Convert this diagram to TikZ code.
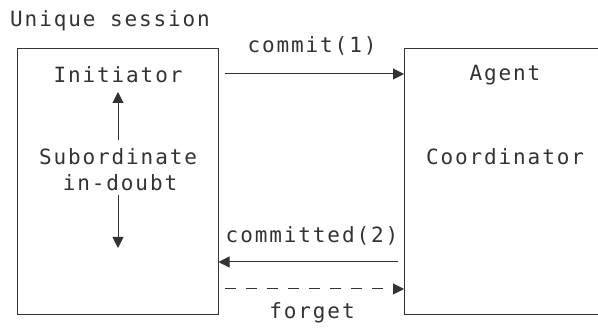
\documentclass[tikz,border=0pt]{standalone}
\usepackage{fontspec}
\setmonofont[LetterSpace=9]{DejaVu Sans Mono}
\usepackage{tikz}
\usetikzlibrary{positioning, arrows.meta, calc}
\definecolor{ink}{HTML}{333333}

\begin{document}
\begin{tikzpicture}[x=1pt, y=1pt,
      txt/.style={text=ink, font=\fontsize{21}{25}\selectfont\ttfamily,
                  inner sep=1pt},
      side/.style={draw=ink, line width=1pt, minimum width=201pt,
                   minimum height=266pt, inner sep=0pt},
      arr/.style={-{Triangle[length=11pt, width=11pt]}, line width=1pt, draw=ink},
      dsh/.style={arr, dash pattern=on 11pt off 10pt}]

    \useasboundingbox (0,0) rectangle (598,328);
    \clip (0,0) rectangle (598,328);

    \node[txt, anchor=west] (ttl) at (9,307) {Unique session};

    % the two sides of the session
    \node[side] (ini) at (117.5,146) {};
    \node[side, minimum width=260pt, anchor=south west] (agt) at (404,13) {};

    \node[txt] (initr) at (118,253) {Initiator};
    \node[txt] (subo)  at (118,171) {Subordinate};
    \node[txt] (doubt) at (120,145) {in-doubt};
    \coordinate (dend) at (118,80);

    \node[txt] (agnt) at (505,253) {Agent};
    \node[txt] (coor) at (505,171) {Coordinator};

    \coordinate (c1) at (225,254);
    \coordinate (c2) at (398,66);
    \coordinate (c3) at (225,39);

    \node[txt] (lcom)  at (312,282) {commit(1)};
    \node[txt] (lcomd) at (312,92)  {committed(2)};
    \node[txt] (lfgt)  at (312,15)  {forget};

    \draw[arr] (118,188) -- (118,236);
    \draw[arr] ([yshift=-3pt]doubt.south -| dend) -- (dend);
    \draw[arr] (c1) -- (agt.west |- c1);
    \draw[arr] (c2) -- (ini.east |- c2);
    \draw[dsh] (c3) -- (agt.west |- c3);
  \end{tikzpicture}
\end{document}
